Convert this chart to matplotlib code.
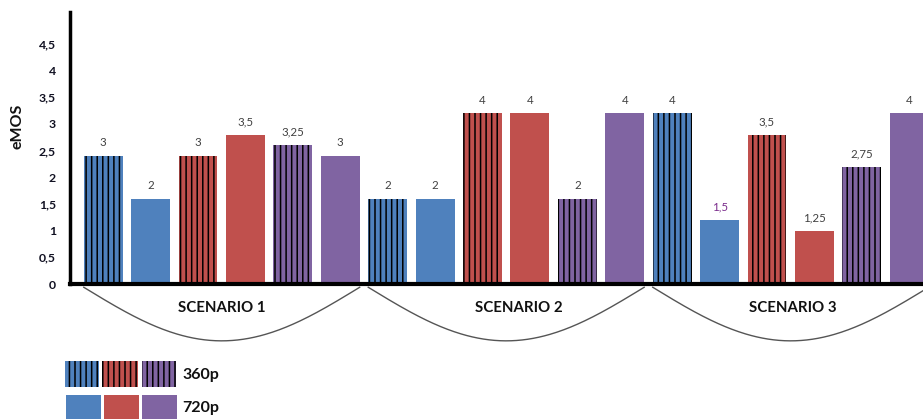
import numpy as np
import matplotlib
matplotlib.use("Agg")
import matplotlib.pyplot as plt
from matplotlib.patches import Rectangle

plt.rcParams['font.family'] = ['Lato', 'DejaVu Sans']
plt.rcParams['hatch.linewidth'] = 1.1

# eMOS per scenario, bars ordered: 360p/720p for blue, red, purple
scenarios = ["SCENARIO 1", "SCENARIO 2", "SCENARIO 3"]
resolutions = ["360p", "720p"]
series_colors = ["#4F81BD", "#C0504D", "#8064A2"]
emos_s1 = [3, 2, 3, 3.5, 3.25, 3]
emos_s2 = [2, 2, 4, 4, 2, 4]
emos_s3 = [4, 1.5, 3.5, 1.25, 2.75, 4]
value_labels_s1 = ["3", "2", "3", "3,5", "3,25", "3"]
value_labels_s2 = ["2", "2", "4", "4", "2", "4"]
value_labels_s3 = ["4", "1,5", "3,5", "1,25", "2,75", "4"]
tick_values = [0, 0.5, 1, 1.5, 2, 2.5, 3, 3.5, 4, 4.5]
tick_labels = ["0", "0,5", "1", "1,5", "2", "2,5", "3", "3,5", "4", "4,5"]

values = emos_s1 + emos_s2 + emos_s3
labels = value_labels_s1 + value_labels_s2 + value_labels_s3

W, H = 923, 419
fig = plt.figure(figsize=(W / 100, H / 100), dpi=100)
ax = fig.add_axes([70 / W, (H - 284) / H, 1 - 70 / W, (284 - 12) / H])

# the printed scale runs at 0.8 of the eMOS score
scale = 1.25
n = len(values)
x = np.arange(n)
colors = [series_colors[(i % 6) // 2] for i in range(n)]
hatches = ['|||' if (i % 2 == 0) else None for i in range(n)]

for xi, v, c, h, lab in zip(x, values, colors, hatches, labels):
    if h:
        ax.bar(xi, v, width=0.82, color=c, edgecolor='black', linewidth=0,
               hatch=h, zorder=2)
    else:
        ax.bar(xi, v, width=0.82, color=c, linewidth=0, zorder=2)
    lc = '#7B2C8C' if lab == "1,5" else '#404040'
    ax.text(xi, v + 13 / 53.33 * scale, lab, ha='center', va='center',
            fontsize=8.3, color=lc)

ax.set_xlim(-0.70, 17.29)
ax.set_ylim(0, 5.1 * scale)
ax.set_yticks([t * scale for t in tick_values])
ax.set_yticklabels(tick_labels, fontsize=8.8, fontweight='bold', color='#111122')
ax.tick_params(axis='y', length=0, pad=10)
ax.set_xticks([])
for s in ['top', 'right']:
    ax.spines[s].set_visible(False)
ax.spines['left'].set_linewidth(2.5)
ax.spines['bottom'].set_linewidth(3)
ax.spines['bottom'].set_zorder(3)

fig.text(18 / W, 1 - 126 / H, "eMOS", rotation=90, ha='center', va='center',
         fontsize=11.5, fontweight='bold', color='#111111')

# curved braces and scenario names below the baseline
trans = ax.get_xaxis_transform()
label_shift = [0.0, 0.27, 0.05]
for g, name in enumerate(scenarios):
    x0 = g * 6 - 0.41
    x1 = g * 6 + 5.41
    u = np.linspace(0, 1, 200)
    xs = x0 + (x1 - x0) * u
    ys = -0.012 - 0.197 * np.sin(np.pi * u)
    ax.plot(xs, ys, transform=trans, color='#555555', lw=1.0, clip_on=False)
    ax.text(g * 6 + 2.5 + label_shift[g], -0.089, name, transform=trans,
            ha='center', va='center', fontsize=10.8, fontweight='bold',
            color='#111111')

# legend swatches
def fig_rect(px0, py0, px1, py1, color, hatch):
    r = Rectangle((px0 / W, 1 - py1 / H), (px1 - px0) / W, (py1 - py0) / H,
                  transform=fig.transFigure, facecolor=color,
                  edgecolor='black' if hatch else 'none',
                  linewidth=0, hatch=hatch)
    fig.patches.append(r)

row1 = [(65, 99), (102, 138), (142, 176)]
row2 = [(66, 101), (104, 139), (142, 177)]
for (a, b), c in zip(row1, series_colors):
    fig_rect(a, 361, b, 387, c, '|||')
for (a, b), c in zip(row2, series_colors):
    fig_rect(a, 395, b, 421, c, None)
fig.text(182 / W, 1 - 374.5 / H, resolutions[0], ha='left', va='center',
         fontsize=11.5, fontweight='bold', color='#111111')
fig.text(182 / W, 1 - 408 / H, resolutions[1], ha='left', va='center',
         fontsize=11.5, fontweight='bold', color='#111111')

fig.savefig("out.png", dpi=100)
